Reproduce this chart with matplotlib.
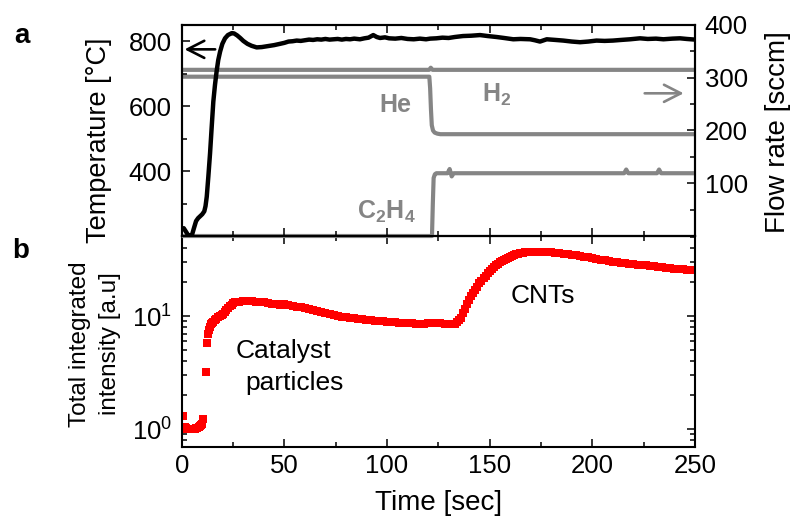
import matplotlib
matplotlib.use("Agg")
import matplotlib.pyplot as plt
from matplotlib.ticker import MultipleLocator, FixedLocator, LogLocator, LogFormatterMathtext, NullFormatter

plt.rcParams.update({
    "font.family": ["Liberation Sans", "DejaVu Sans"],
    "mathtext.fontset": "custom",
    "mathtext.rm": "Liberation Sans",
    "mathtext.it": "Liberation Sans:italic",
    "mathtext.bf": "Liberation Sans:bold",
    "mathtext.default": "regular",
})

# ---------------- panel a: furnace temperature ----------------
temp_time = [0, 1, 2, 3, 4, 5, 6, 7, 8, 9, 10, 11, 11.6, 12.2, 13, 13.8, 14.6, 15.4,
             16.2, 17, 17.8, 18.7, 19.8, 21.1, 22.5, 24.4, 25.5, 27, 28.5, 30, 32, 34,
             36.5, 39, 41, 43, 45, 47.9, 50, 52, 54, 56, 58, 60, 62, 64, 66, 68, 70,
             72, 74, 76, 78, 80, 82, 84, 86.8, 89, 91, 93.3, 95, 96.6, 99, 101, 104,
             107, 110, 113, 116, 119, 121, 124, 127, 130, 133, 137, 141, 145.3, 149,
             153.4, 157, 161.5, 165, 169.7, 172, 174.5, 177.8, 182, 185.9, 190, 194,
             198, 202, 206, 210, 214, 218.4, 223.2, 227, 231, 234.6, 239, 242.7, 246, 250]
temp_c = [221, 224, 214, 204, 200, 203, 225, 246, 255, 261, 267, 276, 292, 321, 385, 454,
          535, 614, 665, 707, 742, 768, 792, 809, 819, 825, 824, 818, 810, 801, 792, 786,
          781, 782, 784, 786, 788, 792, 795, 799, 800, 802, 801, 803, 805, 804, 806, 805,
          807, 805, 806, 807, 805, 807, 806, 808, 806, 809, 811, 819, 813, 810, 812, 809,
          808, 810, 807, 806, 808, 806, 808, 809, 811, 810, 813, 816, 817, 819, 816, 813,
          810, 806, 807, 806, 803, 799, 806, 804, 802, 799, 797, 799, 802, 801, 802, 804,
          806, 809, 807, 808, 806, 808, 809, 807, 805]

# ---------------- panel a: gas flow rates ----------------
h2_time = [0, 120.5, 121.3, 122.2, 250]
h2_flow = [315, 315, 319, 315, 315]

he_time = [0, 120.6, 121.0, 121.4, 121.8, 122.4, 123.2, 124.5, 126, 250]
he_flow = [302, 302, 280, 240, 210, 200, 196, 194, 193, 193]

c2h4_time = [0, 121.9, 122.3, 122.7, 123.3, 124, 129.5, 130.5, 131.5, 132.5,
             215.5, 216.5, 217.5, 231.5, 232.5, 233.5, 250]
c2h4_flow = [0, 0, 60, 110, 117, 119, 119, 127, 113, 119,
             119, 126, 119, 119, 126, 119, 119]

# ---------------- panel b: integrated intensity ----------------
int_time = [0.6, 1.6, 2.2, 2.8, 3.4, 4.0, 4.6, 5.2, 5.8, 6.4, 7.0, 7.6, 8.2, 8.8, 9.4,
            10.0, 10.5, 11.7, 12.5, 12.9, 13.4, 13.8, 14.3, 14.8, 15.3, 16.0, 16.9,
            17.8, 18.7, 19.6, 20.3, 21.0, 21.8, 22.7, 23.5, 24.3, 25.1, 26.0, 27.0,
            28, 30, 32, 34, 36, 38, 40, 42, 44, 46, 48, 50, 52, 54, 56, 58, 60, 62,
            64, 66, 68, 70, 72, 74, 76, 78, 80, 82, 84, 86, 88, 90, 92, 94, 96, 98,
            100, 102, 104, 106, 108, 110, 112, 114, 116, 118, 120, 122, 124, 126, 128,
            130, 132, 133, 134, 135, 136, 137, 138, 139, 140, 141, 142, 143, 144, 145,
            146, 147, 148, 149, 150, 151, 152, 153, 154, 155, 156, 157, 158, 159, 160,
            161, 162, 163, 164, 165, 166, 167, 168, 170, 172, 174, 176, 178, 180, 182,
            184, 186, 188, 190, 192, 194, 196, 198, 200, 202, 204, 206, 208, 210, 212,
            214, 216, 218, 220, 222, 224, 226, 228, 230, 232, 234, 236, 238, 240, 242,
            244, 246, 248, 250]
int_value = [1.31, 1.05, 1.02, 1.01, 1.0, 1.0, 1.0, 1.0, 1.01, 1.01, 1.02, 1.03, 1.04,
             1.06, 1.08, 1.12, 1.22, 3.22, 5.8, 6.9, 7.5, 8.05, 8.5, 8.75, 8.9, 9.2,
             9.5, 9.85, 10.0, 10.2, 10.4, 10.8, 11.2, 11.7, 12.2, 12.6, 12.95, 13.2,
             13.35, 13.4, 13.5, 13.5, 13.5, 13.4, 13.3, 13.2, 13.0, 12.9, 12.8, 12.6,
             12.7, 12.4, 12.2, 12.1, 12.0, 11.8, 11.6, 11.4, 11.1, 10.9, 10.7, 10.5,
             10.3, 10.1, 9.9, 9.8, 9.65, 9.55, 9.45, 9.35, 9.25, 9.15, 9.1, 9.0, 8.95,
             8.9, 8.85, 8.8, 8.75, 8.7, 8.65, 8.6, 8.55, 8.5, 8.45, 8.6, 8.65, 8.6, 8.6,
             8.55, 8.5, 8.45, 8.5, 8.8, 9.2, 9.7, 10.6, 11.6, 12.7, 13.8, 14.9, 16.0,
             17.1, 18.2, 19.4, 20.5, 21.7, 22.8, 23.9, 25.0, 26.0, 27.0, 28.0, 28.9,
             29.8, 30.6, 31.4, 32.2, 32.9, 33.6, 34.2, 34.8, 35.3, 35.7, 36.0, 36.3,
             36.5, 36.7, 36.9, 37.0, 37.1, 37.1, 36.9, 36.6, 36.3, 36.0, 35.6, 35.2,
             34.8, 34.4, 34.0, 33.5, 33.0, 32.5, 32.0, 31.5, 31.0, 30.6, 30.2, 29.8,
             29.5, 29.2, 28.9, 28.7, 28.5, 28.3, 28.1, 27.9, 27.6, 27.3, 27.0, 26.7,
             26.5, 26.2, 26.0, 25.8, 25.6, 25.4, 25.3]

time_ticks = [0, 50, 100, 150, 200, 250]
temp_ticks = [400, 600, 800]
flow_ticks = [100, 200, 300, 400]

GRAY = "#858585"
W, H = 791, 516


def box(x0, y0, x1, y1):
    return [x0 / W, 1 - y1 / H, (x1 - x0) / W, (y1 - y0) / H]


fig = plt.figure(figsize=(W / 100, H / 100), dpi=100)
ax_t = fig.add_axes(box(181.7, 25, 695, 236))
ax_f = ax_t.twinx()
ax_b = fig.add_axes(box(181.7, 236, 695, 446.7))

# temperature trace drawn above the flow traces
ax_t.set_zorder(3)
ax_f.set_zorder(2)
ax_t.patch.set_visible(False)

lw = 3.0
ax_f.plot(h2_time, h2_flow, color=GRAY, lw=lw, solid_capstyle="butt")
ax_f.plot(he_time, he_flow, color=GRAY, lw=lw, solid_capstyle="butt")
ax_f.plot(c2h4_time, c2h4_flow, color=GRAY, lw=lw, solid_capstyle="butt",
          clip_on=False, zorder=3)
ax_t.plot(temp_time, temp_c, color="black", lw=3.2)

ax_b.plot(int_time, int_value, "s", color="red", ms=5.2, mew=0)

# limits
ax_t.set_xlim(0, 250)
ax_b.set_xlim(0, 250)
ax_t.set_ylim(200, 850)
ax_f.set_ylim(0, 400)
ax_b.set_yscale("log")
ax_b.set_ylim(0.7, 51)

# ticks
tick_fs = 18.5
for ax in (ax_t, ax_b):
    ax.xaxis.set_major_locator(FixedLocator(time_ticks))
    ax.xaxis.set_minor_locator(MultipleLocator(25))
ax_t.yaxis.set_major_locator(FixedLocator(temp_ticks))
ax_t.yaxis.set_minor_locator(MultipleLocator(100))
ax_f.yaxis.set_major_locator(FixedLocator(flow_ticks))
ax_f.yaxis.set_minor_locator(MultipleLocator(50))
ax_b.yaxis.set_major_locator(LogLocator(base=10, numticks=10))
ax_b.yaxis.set_major_formatter(LogFormatterMathtext())
ax_b.yaxis.set_minor_locator(LogLocator(base=10, subs=range(2, 10), numticks=20))
ax_b.yaxis.set_minor_formatter(NullFormatter())

common = dict(direction="in", width=1.1, labelsize=tick_fs)
ax_t.tick_params(axis="x", which="both", top=True, bottom=True, labelbottom=False, **common)
ax_t.tick_params(axis="y", which="both", left=True, right=False, pad=7, **common)
ax_f.tick_params(axis="y", which="both", right=True, left=False, pad=7, **common)
ax_b.tick_params(axis="both", which="both", top=True, right=True, **common)
ax_b.tick_params(axis="y", pad=7)
ax_b.tick_params(axis="x", pad=5)
for ax in (ax_t, ax_f, ax_b):
    ax.tick_params(which="major", length=6)
    ax.tick_params(which="minor", length=3.5)
for ax in (ax_t, ax_f, ax_b):
    for sp in ax.spines.values():
        sp.set_linewidth(1.5)

# gas labels and arrows
gas_kw = dict(color=GRAY, fontsize=18, fontweight="bold", ha="center", va="baseline")
ax_f.text(104, 236, "He", **gas_kw)
ax_f.text(153.5, 255, "H$_2$", **gas_kw)
ax_f.text(99.8, 33, "C$_2$H$_4$", **gas_kw)

ax_t.annotate("", xy=(1.4, 775), xytext=(16.3, 775),
              arrowprops=dict(arrowstyle="->,head_length=0.55,head_width=0.28",
                              color="black", lw=1.9, mutation_scale=22,
                              shrinkA=0, shrinkB=0))
ax_f.annotate("", xy=(244.5, 270.5), xytext=(225.5, 270.5),
              arrowprops=dict(arrowstyle="->,head_length=0.55,head_width=0.28",
                              color=GRAY, lw=1.9, mutation_scale=22,
                              shrinkA=0, shrinkB=0))

# panel b annotations
ax_b.text(49.5, 4.24, "Catalyst", fontsize=19, ha="center", va="baseline")
ax_b.text(54.9, 2.22, "particles", fontsize=19, ha="center", va="baseline")
ax_b.text(176, 13.1, "CNTs", fontsize=19, ha="center", va="baseline")

# axis titles and panel letters
fig.text(99.5 / W, 1 - 140 / H, "Temperature [°C]", rotation=90, fontsize=19.5,
         ha="center", va="center")
fig.text(95 / W, 1 - 344 / H, "Total integrated\nintensity [a.u]", rotation=90,
         fontsize=17.5, ha="center", va="center", linespacing=1.45,
         multialignment="center")
fig.text(778 / W, 1 - 131.7 / H, "Flow rate [sccm]", rotation=90, fontsize=20,
         ha="center", va="center")
fig.text(438.4 / W, 1 - 503 / H, "Time [sec]", fontsize=20, ha="center", va="center")
fig.text(21.7 / W, 1 - 43 / H, "a", fontsize=20, fontweight="bold", ha="center",
         va="baseline")
fig.text(21 / W, 1 - 258 / H, "b", fontsize=20, fontweight="bold", ha="center",
         va="baseline")

fig.savefig("out.png", dpi=100)
